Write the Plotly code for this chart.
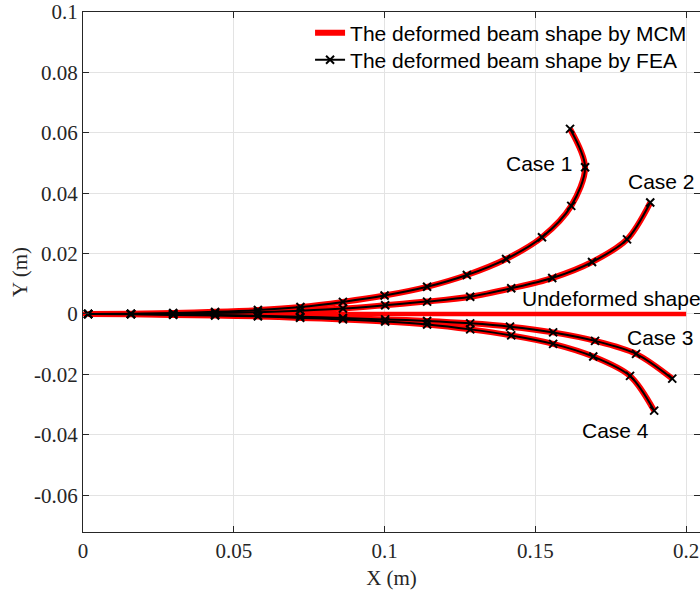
import plotly.graph_objects as go

# ---- data (metres) ----
case1_x = [0.0017, 0.0159, 0.0299, 0.0438, 0.0580, 0.0721, 0.0862, 0.1000, 0.1141, 0.1273, 0.1403, 0.1522, 0.1619, 0.1665, 0.1615]
case1_y = [0.0, 0.0001, 0.0003, 0.0007, 0.0013, 0.0023, 0.0040, 0.0061, 0.0090, 0.0129, 0.0182, 0.0254, 0.0358, 0.0486, 0.0613]

case2_x = [0.0017, 0.0159, 0.0299, 0.0438, 0.0580, 0.0720, 0.0862, 0.1002, 0.1141, 0.1284, 0.1420, 0.1556, 0.1688, 0.1804, 0.1881]
case2_y = [0.0, 0.0, 0.0001, 0.0003, 0.0006, 0.0011, 0.0018, 0.0029, 0.0041, 0.0057, 0.0085, 0.0119, 0.0172, 0.0247, 0.0369]

case3_x = [0.0017, 0.0159, 0.0299, 0.0438, 0.0580, 0.0720, 0.0862, 0.1002, 0.1141, 0.1284, 0.1416, 0.1559, 0.1698, 0.1834, 0.1954]
case3_y = [0.0, 0.0, -0.0002, -0.0003, -0.0006, -0.0009, -0.0013, -0.0018, -0.0023, -0.0031, -0.0042, -0.0061, -0.0089, -0.0132, -0.0214]

case4_x = [0.0017, 0.0159, 0.0299, 0.0438, 0.0580, 0.0720, 0.0862, 0.1002, 0.1141, 0.1284, 0.1420, 0.1559, 0.1692, 0.1814, 0.1894]
case4_y = [0.0, -0.0001, -0.0003, -0.0005, -0.0008, -0.0013, -0.0018, -0.0025, -0.0035, -0.0051, -0.0071, -0.0099, -0.0141, -0.0205, -0.0320]

undeformed_x = [0.0, 0.2]
undeformed_y = [0.0, 0.0]

case_labels = ["Case 1", "Case 2", "Undeformed shape", "Case 3", "Case 4"]
label_x = [0.1395, 0.1799, 0.1448, 0.1797, 0.1649]
label_y = [0.0499, 0.0438, 0.0050, -0.0077, -0.0386]

x_ticks = [0, 0.05, 0.1, 0.15, 0.2]
x_ticktext = ["0", "0.05", "0.1", "0.15", "0.2"]
y_ticks = [-0.06, -0.04, -0.02, 0, 0.02, 0.04, 0.06, 0.08, 0.1]
y_ticktext = ["-0.06", "-0.04", "-0.02", "0", "0.02", "0.04", "0.06", "0.08", "0.1"]

cases = [(case1_x, case1_y), (case2_x, case2_y), (case3_x, case3_y), (case4_x, case4_y)]

fig = go.Figure()

# MCM (red, under)
for i, (cx, cy) in enumerate(cases):
    fig.add_trace(go.Scatter(
        x=cx, y=cy, mode="lines",
        line=dict(color="#ff0000", width=6, shape="spline", smoothing=0.9),
        name="The deformed beam shape by MCM",
        legend="legend", showlegend=(i == 0), cliponaxis=False))

fig.add_trace(go.Scatter(
    x=undeformed_x, y=undeformed_y, mode="lines",
    line=dict(color="#ff0000", width=4.5), showlegend=False, hoverinfo="skip"))

# FEA (black with x markers)
for i, (cx, cy) in enumerate(cases):
    fig.add_trace(go.Scatter(
        x=cx, y=cy, mode="lines+markers",
        line=dict(color="#000000", width=2, shape="spline", smoothing=0.9),
        marker=dict(symbol="x-thin", size=8, line=dict(color="#000000", width=2)),
        name="The deformed beam shape by FEA",
        legend="legend2", showlegend=(i == 0), cliponaxis=False))

for t, lx, ly in zip(case_labels, label_x, label_y):
    fig.add_annotation(x=lx, y=ly, text=t, showarrow=False, xanchor="left", yanchor="middle",
                       font=dict(family="Liberation Sans, Arial", size=21, color="#000000"))

axis_font = dict(family="Liberation Serif, Times New Roman", size=21, color="#262626")
leg_font = dict(family="Liberation Sans, Arial", size=21, color="#000000")

fig.update_layout(
    width=700, height=593,
    margin=dict(l=83, r=0, t=12, b=61),
    paper_bgcolor="white", plot_bgcolor="white",
    showlegend=True,
    legend=dict(x=0.368, y=0.999, xanchor="left", yanchor="top",
                bgcolor="rgba(0,0,0,0)", borderwidth=0, font=leg_font, itemwidth=30),
    legend2=dict(x=0.368, y=0.947, xanchor="left", yanchor="top",
                 bgcolor="rgba(0,0,0,0)", borderwidth=0, font=leg_font, itemwidth=30),
    xaxis=dict(range=[0, 0.2046], tickvals=x_ticks, ticktext=x_ticktext,
               showgrid=True, gridcolor="#e3e3e3", gridwidth=1, zeroline=False,
               showline=True, linecolor="#262626", linewidth=1, mirror="ticks",
               ticks="inside", ticklen=6, tickcolor="#262626",
               tickfont=axis_font,
               title=dict(text="X (m)", font=axis_font, standoff=8)),
    yaxis=dict(range=[-0.0722, 0.1], tickvals=y_ticks, ticktext=y_ticktext,
               showgrid=True, gridcolor="#e3e3e3", gridwidth=1, zeroline=False,
               showline=True, linecolor="#262626", linewidth=1, mirror=False,
               ticks="inside", ticklen=6, tickcolor="#262626",
               tickfont=axis_font,
               title=dict(text="Y (m)", font=axis_font, standoff=0)),
    yaxis2=dict(range=[-0.0722, 0.1], tickvals=y_ticks, overlaying="y", side="right",
                anchor="x", showgrid=False, zeroline=False, showline=False,
                ticks="inside", ticklen=6, tickcolor="#262626", showticklabels=False),
)

# dummy trace to activate yaxis2
fig.add_trace(go.Scatter(x=[None], y=[None], yaxis="y2", showlegend=False, hoverinfo="skip"))

fig.write_html("out.html")
